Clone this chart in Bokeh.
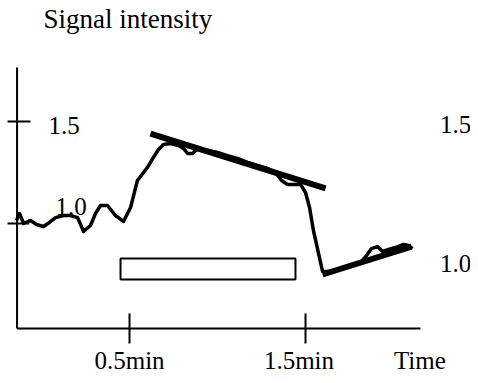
from bokeh.plotting import figure
from bokeh.models import Range1d
from bokeh.core.properties import value
from bokeh.embed import file_html
from bokeh.resources import INLINE

# ---- data ----
time_min = [-0.142, -0.125, -0.102, -0.0625, -0.028, 0.011, 0.045, 0.080, 0.125, 0.165,
            0.205, 0.239, 0.278, 0.307, 0.335, 0.375, 0.420, 0.466, 0.506, 0.545,
            0.602, 0.636, 0.665, 0.693, 0.733, 0.778, 0.807, 0.830, 0.858, 0.881,
            0.943, 1.000, 1.057, 1.114, 1.170, 1.227, 1.284, 1.330, 1.364, 1.398,
            1.438, 1.472, 1.500, 1.523, 1.545, 1.574, 1.597, 1.642, 1.699, 1.756,
            1.813, 1.847, 1.875, 1.909, 1.938, 1.972, 2.011, 2.057, 2.085, 2.108]
signal = [1.015, 1.049, 1.000, 1.015, 0.995, 0.985, 1.005, 1.029, 1.039, 1.039,
          1.029, 0.961, 0.990, 1.049, 1.088, 1.088, 1.039, 1.010, 1.078, 1.211,
          1.275, 1.324, 1.363, 1.387, 1.392, 1.382, 1.368, 1.343, 1.343, 1.363,
          1.358, 1.348, 1.333, 1.319, 1.299, 1.284, 1.270, 1.250, 1.211, 1.191,
          1.191, 1.191, 1.152, 1.078, 0.966, 0.853, 0.765, 0.765, 0.779, 0.794,
          0.809, 0.843, 0.877, 0.887, 0.863, 0.873, 0.882, 0.897, 0.892, 0.877]

fit1_x = [0.619, 1.614]
fit1_y = [1.441, 1.172]
fit2_x = [1.597, 2.102]
fit2_y = [0.750, 0.887]

stim_start, stim_end = 0.449, 1.443
stim_low, stim_high = 0.725, 0.828

x_ticks = [0.5, 1.5]
x_tick_labels = ["0.5min", "1.5min"]
y_ticks = [1.0, 1.5]
left_labels = ["1.5", "1.0"]
right_labels = ["1.5", "1.0"]

# ---- figure ----
FONT = value("Liberation Serif")
p = figure(width=470, height=375, output_backend="svg", toolbar_location=None,
           x_range=Range1d(-0.233, 2.4375), y_range=Range1d(0.2549, 2.093),
           x_axis_type=None, y_axis_type=None, min_border=0)
p.grid.visible = False
p.outline_line_color = None
p.background_fill_color = "white"
p.border_fill_color = "white"

# hand-drawn style axes
ax_left, ax_bottom, ax_top, ax_right = -0.139, 0.485, 1.765, 2.153
p.segment(x0=[ax_left, ax_left], y0=[ax_bottom, ax_bottom],
          x1=[ax_left, ax_right], y1=[ax_top, ax_bottom],
          line_color="black", line_width=2)
# ticks
p.segment(x0=x_ticks, y0=[0.559] * len(x_ticks), x1=x_ticks, y1=[0.412] * len(x_ticks),
          line_color="black", line_width=2)
p.segment(x0=[-0.193] * len(y_ticks), y0=y_ticks, x1=[-0.07, -0.0625], y1=y_ticks,
          line_color="black", line_width=2)

# stimulus bar
p.quad(left=[stim_start], right=[stim_end], bottom=[stim_low], top=[stim_high],
       fill_color="white", line_color="black", line_width=2)

# signal trace
p.line(time_min, signal, line_color="black", line_width=3.5, line_join="round")

# fitted lines
p.line(fit1_x, fit1_y, line_color="black", line_width=6)
p.line(fit2_x, fit2_y, line_color="black", line_width=6)

# texts
p.text(x=[0.011], y=[2.0], text=["Signal intensity"], text_font=FONT,
       text_font_size="27px", text_baseline="alphabetic", text_align="left", text_color="black")
p.text(x=[0.040, 0.080], y=[1.480, 1.083], text=left_labels, text_font=FONT,
       text_font_size="25px", text_baseline="alphabetic", text_align="left", text_color="black")
p.text(x=[2.264, 2.264], y=[1.485, 0.804], text=right_labels, text_font=FONT,
       text_font_size="25px", text_baseline="alphabetic", text_align="left", text_color="black")
p.text(x=[0.500, 1.463], y=[0.330, 0.330], text=x_tick_labels, text_font=FONT,
       text_font_size="25px", text_baseline="alphabetic", text_align="center", text_color="black")
p.text(x=[2.150], y=[0.330], text=["Time"], text_font=FONT,
       text_font_size="25px", text_baseline="alphabetic", text_align="center", text_color="black")

open("out.html", "w").write(file_html(p, INLINE))
